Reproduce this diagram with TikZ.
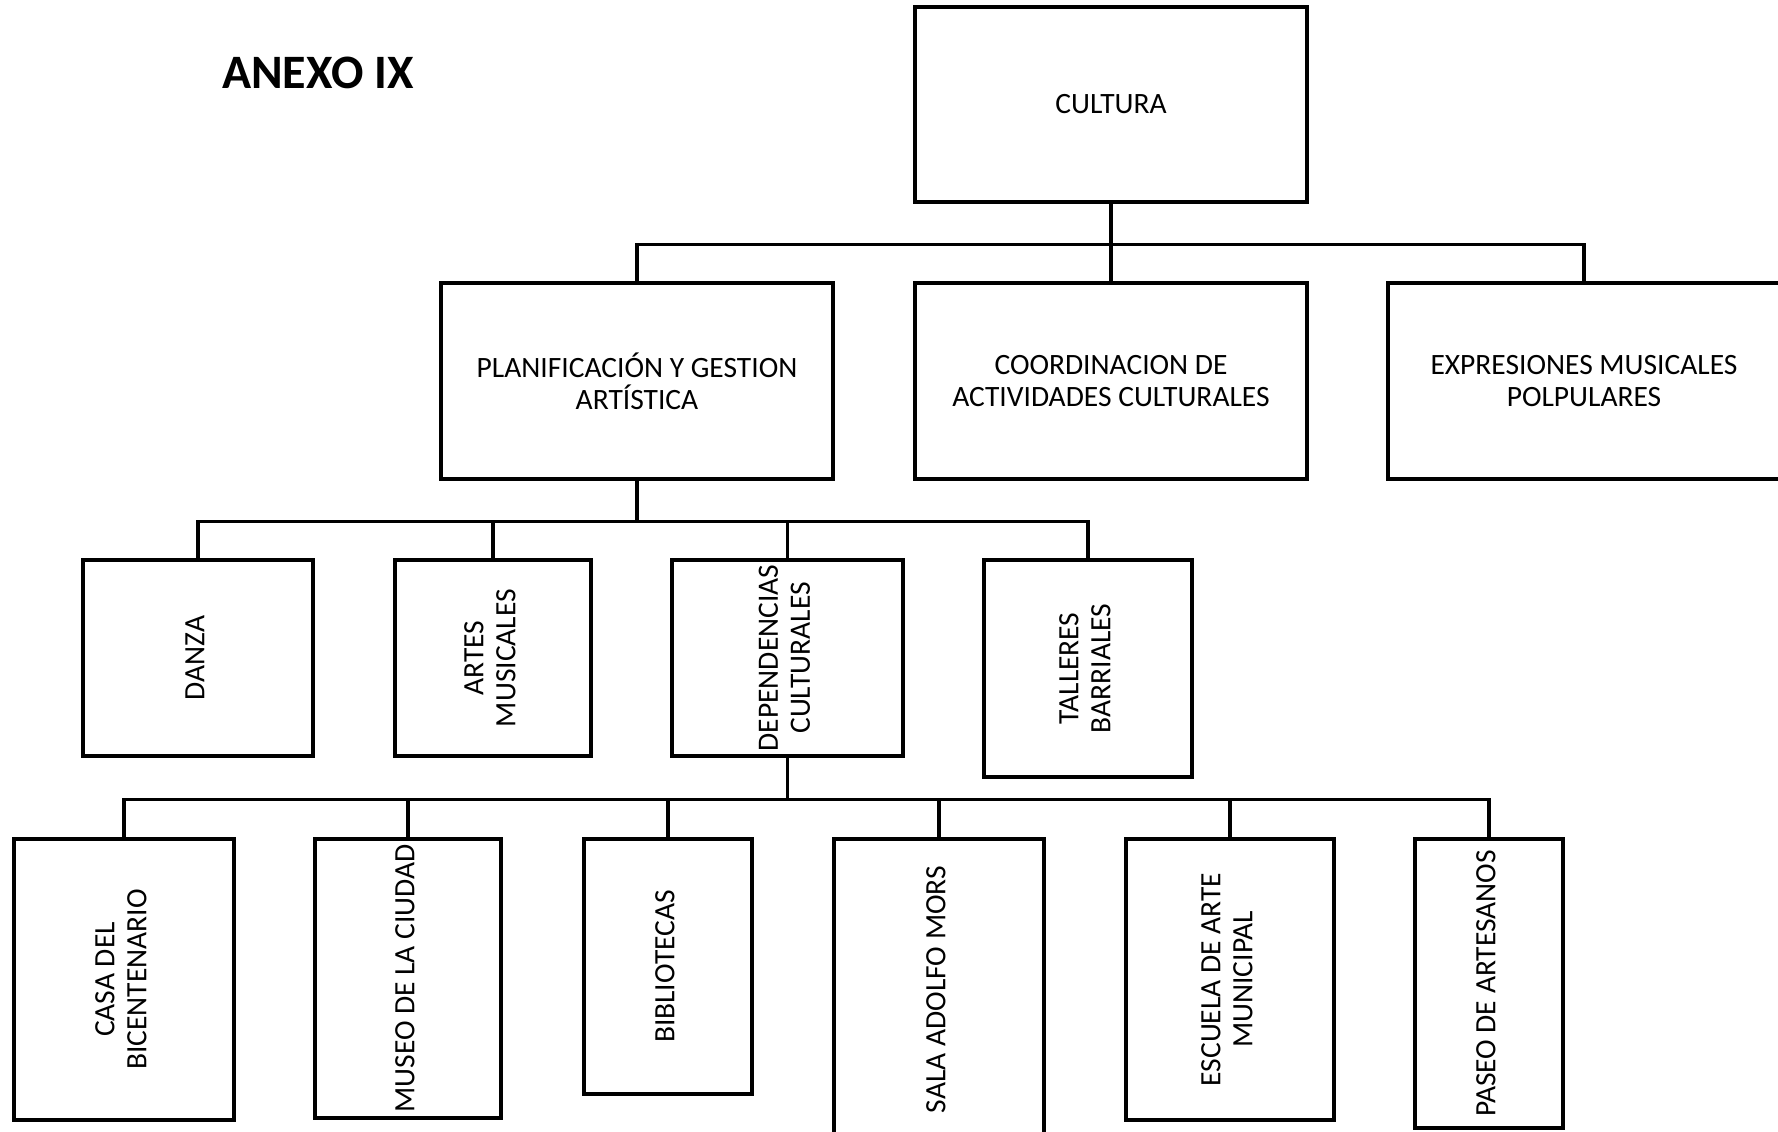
\documentclass[tikz,border=0pt]{standalone}
\usepackage{fontspec}
\setmainfont{Carlito}
\newcommand{\vtext}[1]{\rotatebox{90}{\begin{tabular}{@{}c@{}}#1\end{tabular}}}
\begin{document}
\begin{tikzpicture}[x=1pt,y=-1pt,
  box/.style={draw,line width=3.5pt,inner sep=0pt,align=center,
    font=\fontsize{29.5}{32}\selectfont},
  link/.style={line width=3.5pt}]
  \useasboundingbox (0,0) rectangle (1778,1132);
  % Title
  \node[font=\fontsize{48}{56}\selectfont\bfseries] (anexo) at (318,73) {ANEXO IX};
  % Top level
  \node[box,minimum width=392,minimum height=195] (cultura) at (1111,104.5) {CULTURA};
  % Second level
  \node[box,minimum width=392,minimum height=196] (planif) at (637,381)
    {PLANIFICACIÓN Y GESTION\\ARTÍSTICA};
  \node[box,minimum width=392,minimum height=196] (coord) at (1111,381)
    {COORDINACION DE\\ACTIVIDADES CULTURALES};
  \node[box,minimum width=392,minimum height=196] (expres) at (1584,381)
    {EXPRESIONES MUSICALES\\POLPULARES};
  % Third level
  \node[box,minimum width=230,minimum height=196] (danza) at (198,658) {\vtext{DANZA}};
  \node[box,minimum width=196,minimum height=196] (artes) at (493,658) {\vtext{ARTES\\MUSICALES}};
  \node[box,minimum width=231,minimum height=196] (depend) at (787.5,658)
    {\vtext{DEPENDENCIAS\\CULTURALES}};
  \node[box,minimum width=208,minimum height=217] (talleres) at (1088,668.5)
    {\vtext{TALLERES\\BARRIALES}};
  % Fourth level
  \node[box,minimum width=220,minimum height=281] (casa) at (124,979.5)
    {\vtext{CASA DEL\\BICENTENARIO}};
  \node[box,minimum width=186,minimum height=279] (museo) at (408,978.5)
    {\vtext{MUSEO DE LA CIUDAD}};
  \node[box,minimum width=168,minimum height=255] (biblio) at (668,966.5)
    {\vtext{BIBLIOTECAS}};
  \node[box,minimum width=210,minimum height=301] (sala) at (939,989.5)
    {\vtext{SALA ADOLFO MORS}};
  \node[box,minimum width=208,minimum height=281] (escuela) at (1230,979.5)
    {\vtext{ESCUELA DE ARTE\\MUNICIPAL}};
  \node[box,minimum width=148,minimum height=289] (paseo) at (1489,983.5)
    {\vtext{PASEO DE ARTESANOS}};
  % Connectors
  \foreach \c in {planif,coord,expres}
    \draw[link] (cultura.south) -- ++(0,40.5) -| (\c.north);
  \foreach \c in {danza,artes,depend,talleres}
    \draw[link] (planif.south) -- ++(0,40.5) -| (\c.north);
  \foreach \c in {casa,museo,biblio,sala,escuela,paseo}
    \draw[link] (depend.south) -- ++(0,41.5) -| (\c.north);
\end{tikzpicture}
\end{document}
